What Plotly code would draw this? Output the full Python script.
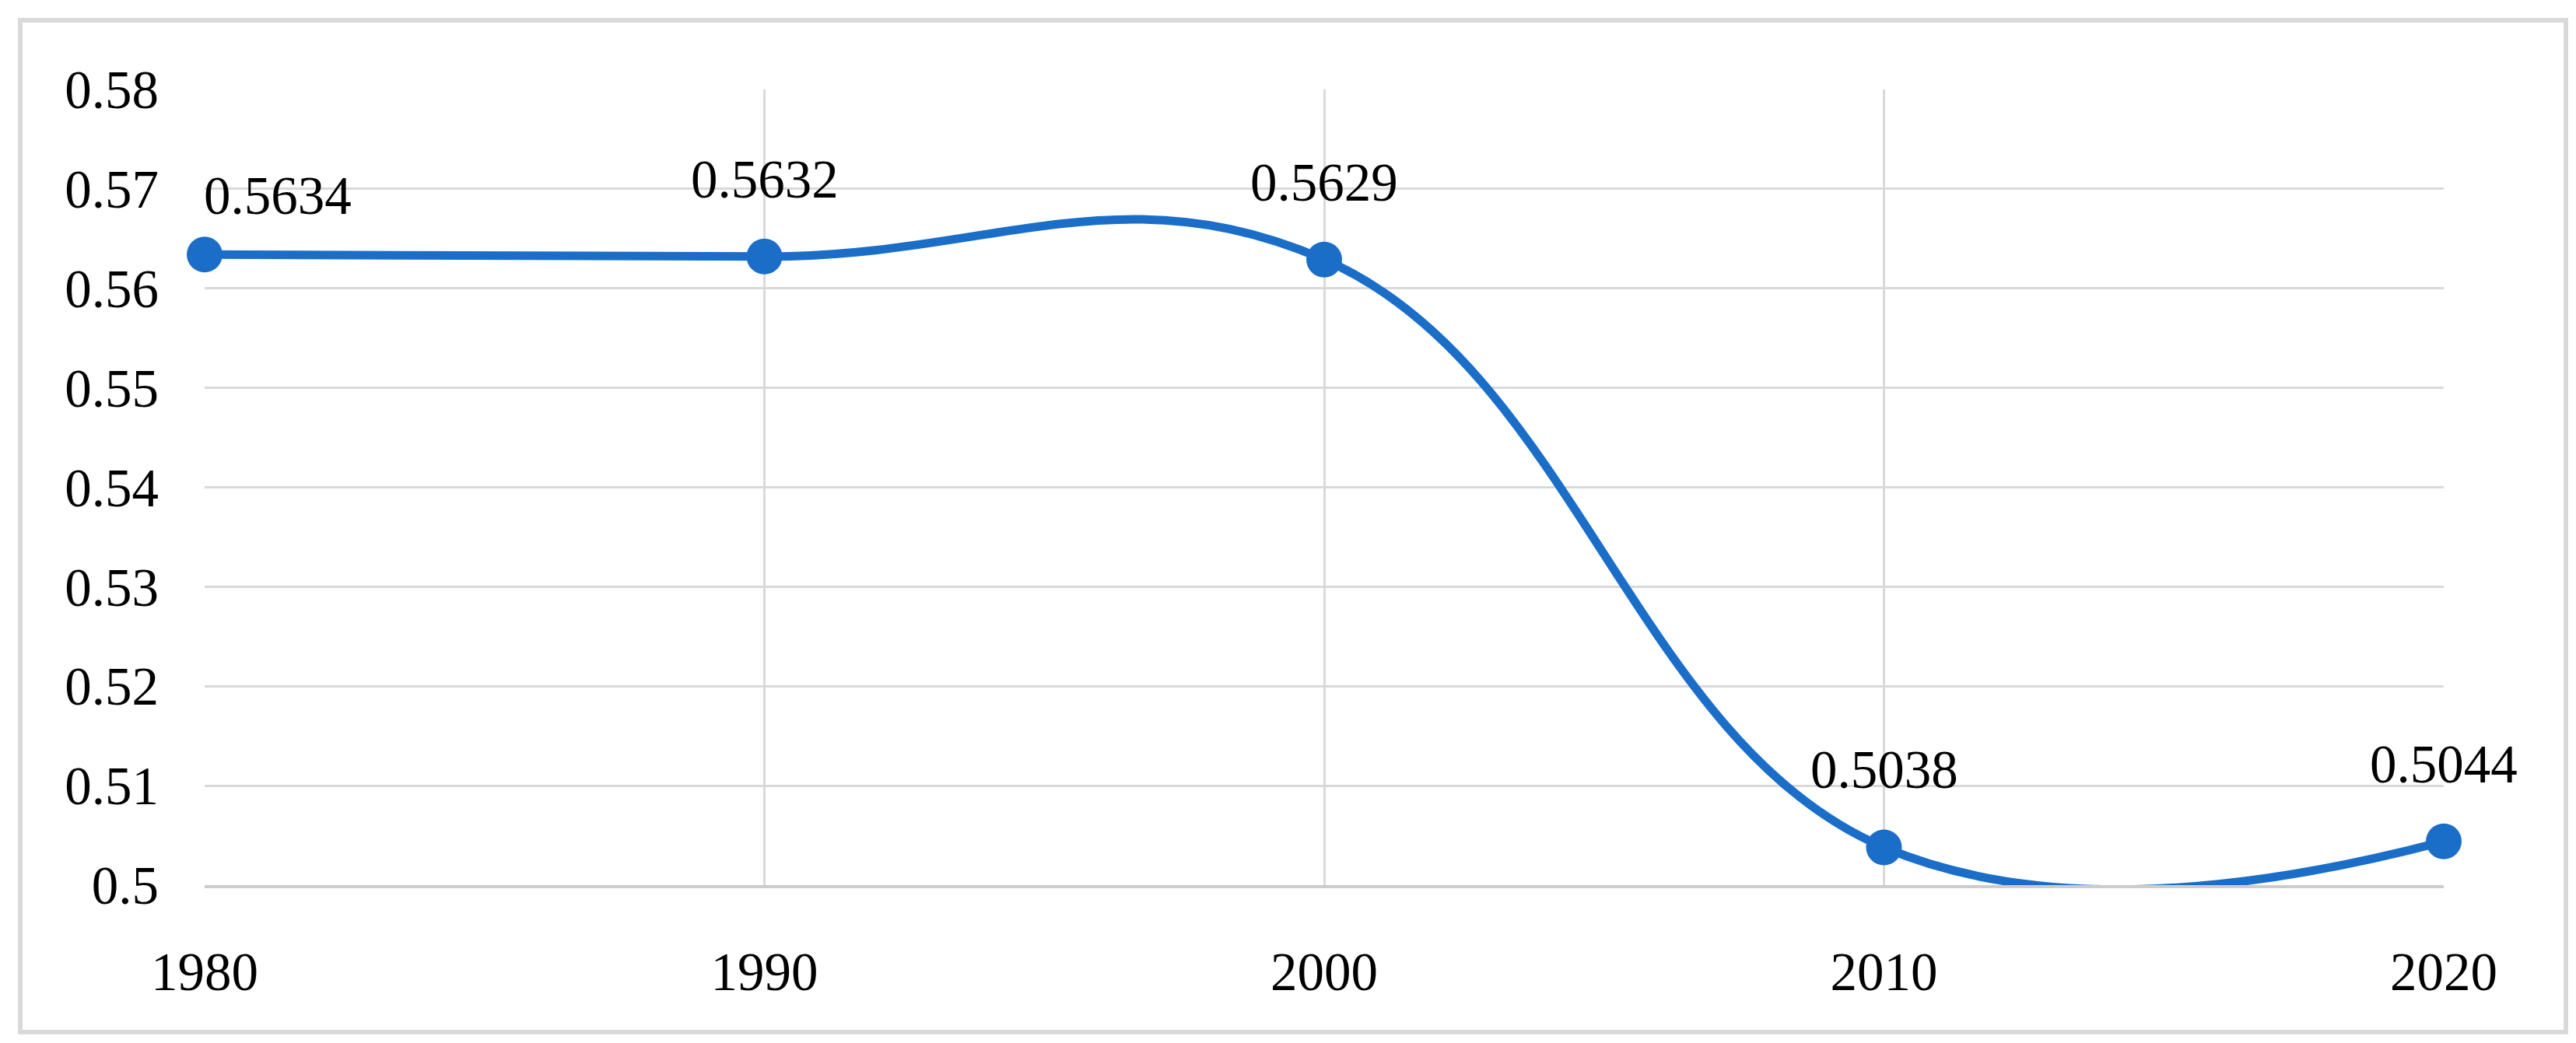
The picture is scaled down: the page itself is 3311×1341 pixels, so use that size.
import plotly.graph_objects as go

# ---- data ----
years = [1980, 1990, 2000, 2010, 2020]
values = [0.5634, 0.5632, 0.5629, 0.5038, 0.5044]
value_labels = ["0.5634", "0.5632", "0.5629", "0.5038", "0.5044"]
y_tick_vals = [0.50, 0.51, 0.52, 0.53, 0.54, 0.55, 0.56, 0.57, 0.58]
y_tick_labels = ["0.5", "0.51", "0.52", "0.53", "0.54", "0.55", "0.56", "0.57", "0.58"]
x_tick_labels = ["1980", "1990", "2000", "2010", "2020"]

W, H = 3311, 1341
ML, MR, MT, MB = 255, 178, 107, 211
FONT = "Liberation Serif"
BLUE = "#1b6ec8"
GRID = "#d9d9d9"

fig = go.Figure()
fig.add_trace(go.Scatter(
    x=years, y=values, mode="lines+markers",
    line=dict(shape="spline", smoothing=1.2, color=BLUE, width=11),
    marker=dict(size=46, color=BLUE),
    cliponaxis=False, showlegend=False, hoverinfo="skip",
))

# data labels
for i, (xv, yv, lab) in enumerate(zip(years, values, value_labels)):
    first = i == 0
    fig.add_annotation(
        x=xv, y=yv, text=lab, showarrow=False,
        xanchor="left" if first else "center", yanchor="middle",
        xshift=-3 if first else 0, yshift=75 if first else 99,
        font=dict(family=FONT, size=69, color="black"),
    )

# outer border (pixel -> paper coords)
pw, ph = W - ML - MR, H - MT - MB
def px_x(p):
    return (p - ML) / pw
def px_y(p):
    return (H - MB - p) / ph
fig.add_shape(type="rect", xref="paper", yref="paper",
              x0=px_x(18), x1=px_x(3290), y0=px_y(1319), y1=px_y(18),
              line=dict(color=GRID, width=6), fillcolor="rgba(0,0,0,0)", layer="below")

fig.update_layout(
    width=W, height=H,
    margin=dict(l=ML, r=MR, t=MT, b=MB),
    paper_bgcolor="white", plot_bgcolor="white",
    font=dict(family=FONT, size=69, color="black"),
    xaxis=dict(range=[1980, 2020], tickvals=years, ticktext=x_tick_labels,
               showgrid=True, gridcolor=GRID, gridwidth=3,
               showline=True, linecolor="#cccccc", linewidth=4,
               zeroline=False, ticks="", ticklabelstandoff=48,
               tickfont=dict(family=FONT, size=69, color="black")),
    yaxis=dict(range=[0.5, 0.58], tickvals=y_tick_vals, ticktext=y_tick_labels,
               showgrid=True, gridcolor=GRID, gridwidth=3,
               showline=False, zeroline=False, ticks="", ticklabelstandoff=58,
               tickfont=dict(family=FONT, size=69, color="black")),
)

fig.write_html("out.html")
